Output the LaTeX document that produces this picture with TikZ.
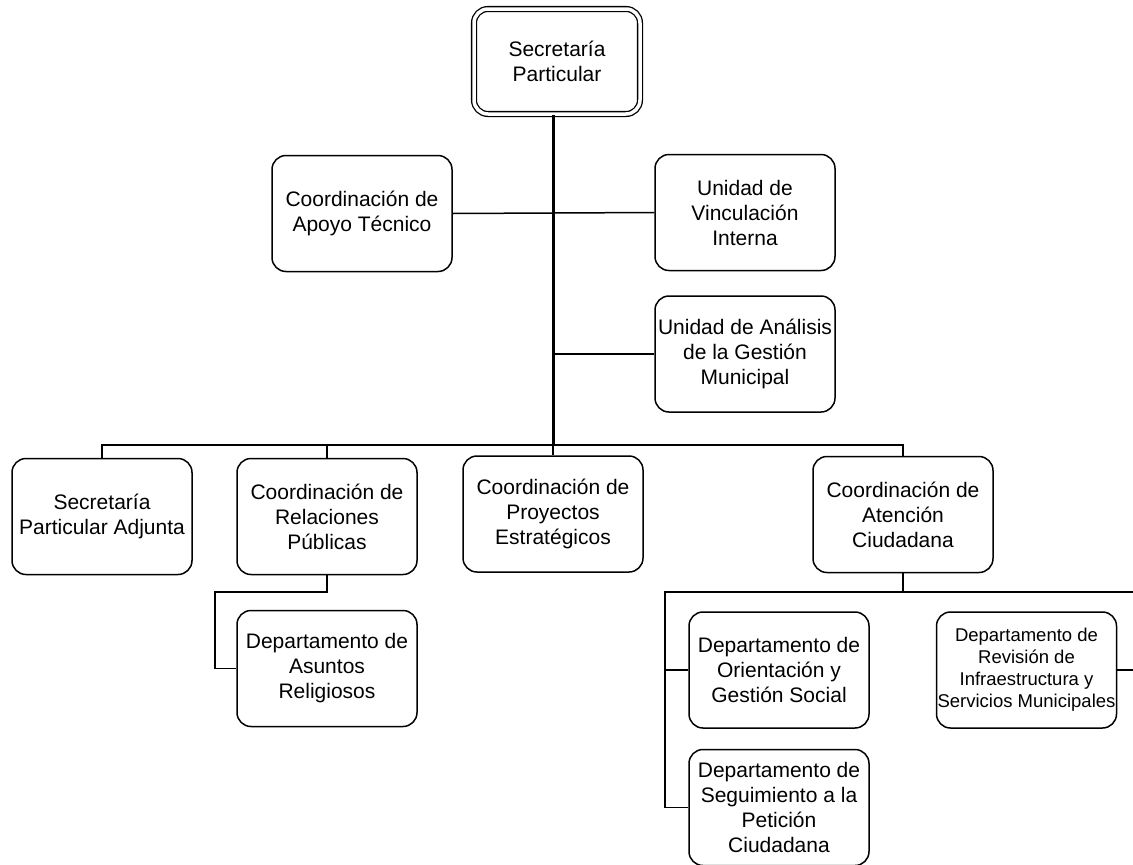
\documentclass[tikz,border=0pt]{standalone}
\usepackage{fontspec}
\setmainfont{Liberation Sans}
\begin{document}
\begin{tikzpicture}[x=1pt,y=-1pt,
  box/.style={draw, line width=1.5pt, rounded corners=14pt, minimum width=180pt, minimum height=116pt,
    align=center, inner sep=1pt, font=\fontsize{21}{25}\selectfont},
  smallbox/.style={box, font=\fontsize{18.5}{22}\selectfont},
  topbox/.style={draw, double, double distance=3.5pt, line width=1.3pt, rounded corners=14pt,
    minimum width=166pt, minimum height=105pt, align=center, font=\fontsize{21}{25}\selectfont},
  conn/.style={line width=1.5pt},
  trunkline/.style={line width=3pt}]
\useasboundingbox (0,0) rectangle (1133,865);

\node[topbox] (top) at (557,61.5) {Secretaría\\Particular};

\node[box] (apoyo) at (362,213.5) {Coordinación de\\Apoyo Técnico};
\node[box] (vinc) at (745,212.5) {Unidad de\\Vinculación\\Interna};
\node[box] (anal) at (745,354) {Unidad de Análisis\\de la Gestión\\Municipal};

\node[box] (adj) at (102,516.5) {Secretaría\\Particular Adjunta};
\node[box] (rel) at (327,516.5) {Coordinación de\\Relaciones\\Públicas};
\node[box] (proy) at (553,514) {Coordinación de\\Proyectos\\Estratégicos};
\node[box] (aten) at (903,514.5) {Coordinación de\\Atención\\Ciudadana};

\node[box] (asun) at (327,668.5) {Departamento de\\Asuntos\\Religiosos};
\node[box] (orie) at (779,670) {Departamento de\\Orientación y\\Gestión Social};
\node[box] (segu) at (779,807.5) {Departamento de\\Seguimiento a la\\Petición\\Ciudadana};
\node[smallbox] (revi) at (1026.5,670) {Departamento de\\Revisión de\\Infraestructura y\\Servicios Municipales};

% coordinates
\coordinate (tr) at (553,0);
\coordinate (bus) at (553,445);
\coordinate (bus2) at (665,592);
\coordinate (edge) at (1137,592);
\coordinate (relk) at (215,592);

% trunk
\draw[trunkline] (top.south -| tr) -- (bus);
\draw[conn] (bus) -- (proy.north);
\draw[conn] (apoyo.east) -- (vinc.west);
\draw[conn] (anal.west -| tr) -- (anal.west);

% main bus
\draw[conn] (adj.north) -- (adj.north |- bus) -- (aten.north |- bus) -- (aten.north);
\draw[conn] (rel.north) -- (rel.north |- bus);

% relaciones publicas -> asuntos
\draw[conn] (rel.south) -- (rel.south |- relk) -- (relk) |- (asun.west);

% atencion ciudadana subtree
\draw[conn] (aten.south) -- (aten.south |- bus2);
\draw[conn] (edge) -- (bus2) |- (segu.west);
\draw[conn] (bus2 |- orie.west) -- (orie.west);
\draw[conn] (edge) -- (edge |- revi.east) -- (revi.east);
\end{tikzpicture}
\end{document}
